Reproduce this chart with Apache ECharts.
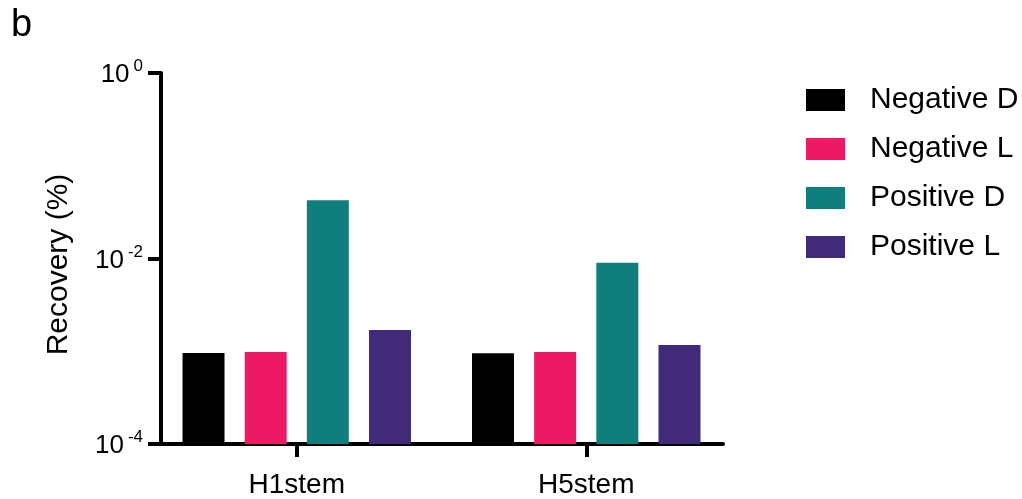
<!DOCTYPE html>
<html>
<head>
<meta charset="utf-8">
<script src="https://cdn.jsdelivr.net/npm/echarts@6/dist/echarts.min.js"></script>
<style>
  html, body { margin: 0; padding: 0; background: #ffffff; }
  #chart { width: 1022px; height: 499px; }
</style>
</head>
<body>
<div id="chart"></div>
<script>
// Recovery (%) per stem construct, log scale
const categories = ['H1stem', 'H5stem'];
const seriesNames = ['Negative D', 'Negative L', 'Positive D', 'Positive L'];
const negativeD = [0.00096, 0.00095];
const negativeL = [0.00098, 0.00098];
const positiveD = [0.0425, 0.0090];
const positiveL = [0.00169, 0.00117];
const yTickExponents = [0, -2, -4];

const colors = ['#000000', '#ED1965', '#107E7D', '#422A7A'];
const values = [negativeD, negativeL, positiveD, positiveL];
const FONT = 'Liberation Sans, Arial, sans-serif';

const chart = echarts.init(document.getElementById('chart'), null, { renderer: 'canvas' });

const series = seriesNames.map((name, i) => ({
  name: name,
  type: 'bar',
  xAxisIndex: 0,
  yAxisIndex: 0,
  data: values[i],
  barWidth: 42,
  barGap: '48%',
  itemStyle: { color: colors[i] },
  emphasis: { disabled: true }
}));

chart.setOption({
  animation: false,
  title: {
    text: 'b',
    left: 6,
    top: 2,
    textStyle: { fontFamily: FONT, fontSize: 38, fontWeight: 'normal', color: '#000' }
  },
  legend: {
    orient: 'vertical',
    left: 801,
    top: 80,
    itemWidth: 39,
    itemHeight: 22,
    itemGap: 19,
    icon: 'rect',
    selectedMode: false,
    data: seriesNames,
    textStyle: { fontFamily: FONT, fontSize: 30, color: '#000', padding: [0, 0, 0, 20] }
  },
  grid: [
    { left: 152, width: 579, top: 73, height: 371, containLabel: false },
    { left: 161, width: 562, top: 73, height: 371, containLabel: false }
  ],
  xAxis: [
    {
      gridIndex: 0,
      type: 'category',
      data: categories,
      axisLine: { show: false },
      axisTick: { show: true, alignWithLabel: true, length: 13, lineStyle: { color: '#000', width: 4 } },
      axisLabel: { margin: 27, fontFamily: FONT, fontSize: 28, color: '#000' },
      splitLine: { show: false }
    },
    {
      gridIndex: 1,
      type: 'category',
      data: categories,
      axisLine: { show: true, lineStyle: { color: '#000', width: 4 } },
      axisTick: { show: false },
      axisLabel: { show: false },
      splitLine: { show: false }
    }
  ],
  yAxis: [
    {
      gridIndex: 0,
      type: 'log',
      logBase: 10,
      min: 0.0001,
      max: 1,
      interval: 2,
      startValue: 0.0001,
      offset: -9,
      name: 'Recovery (%)',
      nameLocation: 'middle',
      nameGap: 87,
      nameTextStyle: { fontFamily: FONT, fontSize: 30, color: '#000', padding: [0, 12, 0, 0] },
      axisLine: { show: true, lineStyle: { color: '#000', width: 4 } },
      axisTick: { show: true, length: 13, lineStyle: { color: '#000', width: 4 } },
      minorTick: { show: false },
      splitLine: { show: false },
      axisLabel: {
        margin: 18,
        formatter: function (v) {
          const e = Math.round(Math.log10(v));
          return yTickExponents.indexOf(e) >= 0 ? '{a|10}{b|' + e + '}' : '';
        },
        rich: {
          a: { fontFamily: FONT, fontSize: 26, color: '#000', lineHeight: 30, verticalAlign: 'bottom' },
          b: { fontFamily: FONT, fontSize: 17, color: '#000', lineHeight: 17, verticalAlign: 'top', padding: [0, 0, 0, 4] }
        }
      }
    },
    {
      gridIndex: 1,
      type: 'value',
      show: false
    }
  ],
  series: series
});
</script>
</body>
</html>
